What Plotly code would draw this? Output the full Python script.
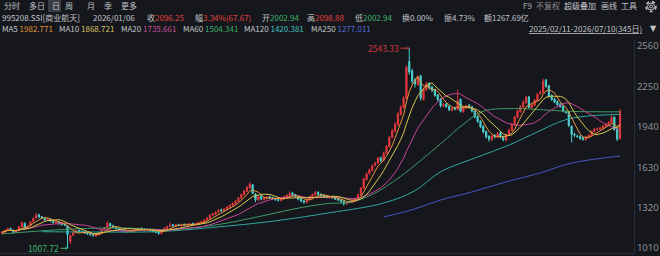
import plotly.graph_objects as go
import pandas as pd

# ---------------- data ----------------
opens = [1122,1130,1146,1160,1148,1130,1145,1172,1200,1162,
         1180,1212,1240,1265,1250,1238,1224,1230,1220,1202,
         1210,1198,1192,1180,1060,1108,1126,1145,1138,1132,
         1126,1120,1114,1102,1112,1124,1152,1166,1198,1182,
         1170,1158,1150,1144,1134,1142,1136,1148,1150,1162,
         1156,1146,1152,1146,1140,1132,1120,1142,1160,1176,
         1188,1178,1190,1182,1192,1185,1190,1198,1188,1196,
         1204,1210,1226,1238,1264,1268,1284,1304,1294,1308,
         1322,1336,1350,1368,1392,1418,1445,1470,1495,1425,
         1378,1410,1382,1390,1404,1398,1390,1382,1374,1388,
         1400,1412,1432,1420,1408,1390,1372,1360,1378,1402,
         1418,1438,1424,1414,1408,1394,1404,1398,1388,1380,
         1368,1348,1366,1360,1374,1388,1418,1468,1535,1582,
         1605,1645,1662,1702,1682,1738,1788,1858,1905,1955,
         2035,2088,2160,2440,2370,2300,2262,2330,2150,2225,
         2275,2245,2225,2185,2155,2098,2115,2098,2066,2085,
         2072,2150,2055,2082,2105,2094,2064,2020,1985,1945,
         1905,1868,1840,1875,1858,1895,1865,1836,1878,1912,
         1955,2012,2055,2092,2125,2170,2085,2105,2140,2195,
         2200,2300,2255,2180,2155,2135,2115,2100,2055,2055,
         1945,1885,1870,1868,1855,1840,1858,1872,1902,1918,
         1922,1928,1942,1958,1972,2015,1925,1850]
highs = [1138,1150,1166,1168,1152,1148,1180,1215,1206,1185,
         1216,1245,1280,1272,1256,1244,1240,1236,1225,1220,
         1215,1204,1198,1185,1112,1134,1150,1152,1144,1138,
         1130,1126,1118,1116,1130,1156,1172,1215,1204,1188,
         1176,1164,1156,1150,1146,1148,1152,1158,1166,1168,
         1160,1156,1158,1150,1144,1136,1146,1168,1182,1206,
         1194,1194,1196,1196,1198,1198,1202,1204,1204,1212,
         1218,1232,1246,1268,1278,1292,1308,1312,1318,1332,
         1346,1360,1378,1402,1428,1456,1484,1515,1502,1430,
         1412,1416,1400,1410,1412,1404,1396,1388,1396,1410,
         1422,1445,1440,1426,1412,1394,1378,1386,1412,1428,
         1450,1444,1430,1420,1414,1408,1410,1402,1394,1384,
         1372,1366,1372,1382,1398,1428,1478,1548,1590,1620,
         1650,1672,1710,1712,1750,1800,1870,1922,1975,2052,
         2105,2175,2410,2543.33,2385,2315,2335,2340,2242,2285,
         2280,2255,2232,2192,2160,2122,2125,2105,2090,2094,
         2225,2158,2095,2110,2115,2100,2070,2028,1990,1952,
         1910,1875,1880,1885,1900,1902,1870,1888,1925,1970,
         2025,2072,2105,2142,2180,2176,2120,2155,2200,2218,
         2310,2308,2262,2190,2162,2142,2124,2106,2066,2060,
         1950,1895,1880,1875,1862,1868,1882,1912,1930,1935,
         1940,1955,1968,1985,2030,2020,1930,2075]
lows = [1115,1126,1140,1144,1120,1124,1140,1168,1152,1155,
        1175,1206,1234,1240,1232,1220,1216,1210,1198,1196,
        1188,1182,1178,1007.72,1040,1100,1120,1130,1124,1118,
        1110,1104,1096,1096,1106,1120,1146,1160,1172,1160,
        1152,1144,1136,1128,1128,1132,1130,1142,1145,1148,
        1140,1140,1138,1130,1122,1112,1116,1138,1155,1170,
        1174,1172,1178,1176,1180,1180,1184,1184,1182,1190,
        1198,1204,1220,1232,1256,1262,1276,1288,1288,1302,
        1316,1330,1344,1362,1386,1410,1438,1462,1422,1362,
        1370,1376,1374,1384,1386,1380,1372,1366,1368,1382,
        1394,1406,1410,1396,1376,1360,1350,1354,1372,1396,
        1412,1412,1404,1398,1390,1388,1388,1378,1370,1356,
        1335,1342,1354,1355,1368,1384,1412,1462,1528,1572,
        1598,1635,1655,1668,1676,1730,1780,1850,1898,1948,
        2025,2080,2150,2340,2270,2240,2255,2140,2140,2215,
        2225,2205,2170,2135,2088,2090,2085,2060,2058,2066,
        2068,2050,2048,2076,2080,2050,2005,1970,1930,1888,
        1850,1825,1832,1850,1852,1850,1828,1830,1870,1905,
        1948,2005,2048,2085,2118,2080,2076,2098,2132,2185,
        2195,2240,2165,2140,2120,2100,2085,2050,2040,1940,
        1820,1862,1855,1840,1832,1835,1850,1866,1895,1910,
        1915,1920,1935,1950,1965,1910,1830,1840]
closes = [1130,1145,1158,1150,1128,1142,1175,1205,1160,1178,
          1210,1238,1262,1248,1240,1226,1232,1218,1205,1212,
          1196,1190,1185,1112,1105,1128,1142,1136,1130,1124,
          1118,1112,1105,1110,1125,1150,1165,1200,1180,1168,
          1160,1150,1142,1135,1140,1138,1146,1152,1160,1155,
          1148,1150,1145,1138,1130,1122,1140,1162,1175,1185,
          1180,1188,1184,1190,1186,1192,1195,1190,1198,1205,
          1212,1225,1240,1262,1270,1285,1300,1296,1310,1325,
          1338,1352,1370,1395,1420,1448,1475,1500,1430,1380,
          1405,1385,1392,1400,1395,1388,1380,1376,1390,1402,
          1415,1428,1418,1405,1385,1370,1362,1380,1405,1420,
          1435,1420,1412,1405,1398,1400,1395,1385,1378,1365,
          1350,1360,1362,1375,1390,1420,1470,1540,1580,1610,
          1640,1660,1700,1680,1740,1790,1860,1910,1960,2040,
          2090,2160,2400,2360,2290,2270,2320,2160,2230,2270,
          2240,2220,2180,2150,2100,2110,2095,2070,2080,2075,
          2140,2060,2085,2100,2090,2060,2015,1980,1940,1900,
          1862,1845,1870,1862,1890,1860,1840,1880,1915,1960,
          2015,2060,2095,2130,2165,2090,2110,2145,2190,2205,
          2290,2250,2175,2150,2130,2110,2095,2060,2050,1950,
          1880,1875,1865,1850,1845,1860,1875,1905,1920,1925,
          1930,1945,1960,1975,2010,1920,1845,2060]

# long moving averages at sample candles
ma60_i = [0, 20, 40, 60, 76, 90, 105, 115, 122, 130, 140, 154, 162, 169, 180, 190, 200, 217]
ma60_v = [1118, 1150, 1165, 1152, 1190, 1250, 1320, 1352, 1360, 1420, 1560, 1810, 1960, 2060, 2080, 2070, 2058, 2055]
ma120_i = [14, 30, 55, 76, 95, 115, 134, 145, 154, 166, 178, 186, 198, 207, 217]
ma120_v = [1135, 1133, 1136, 1172, 1215, 1280, 1355, 1450, 1595, 1700, 1800, 1880, 1995, 2025, 2035]
ma250_i = [134, 145, 154, 165, 177, 189, 200, 217]
ma250_v = [1248, 1310, 1378, 1440, 1517, 1586, 1662, 1716]

price_ticks = [1010, 1320, 1630, 1940, 2250, 2560]
high_label = 2543.33
low_label = 1007.72

# ---------------- figure ----------------
BG = '#15171c'
UP = '#e2393c'
DOWN = '#4ccfd0'
LIGHT = '#c4c6cb'
RED = '#e0403f'
GREEN = '#3cb56a'

idx = list(range(len(closes)))
s = pd.Series(closes)
ma5 = s.rolling(5, min_periods=1).mean()
ma10 = s.rolling(10, min_periods=1).mean()
ma20 = s.rolling(20, min_periods=1).mean()

fig = go.Figure()
fig.add_trace(go.Candlestick(
    x=idx, open=opens, high=highs, low=lows, close=closes,
    increasing=dict(line=dict(color=UP, width=1), fillcolor=UP),
    decreasing=dict(line=dict(color=DOWN, width=1), fillcolor=DOWN),
    whiskerwidth=0, showlegend=False, hoverinfo='skip'))

line_specs = [
    (ma250_i, ma250_v, '#4656c4'),
    (ma120_i, ma120_v, '#2fa8a0'),
    (ma60_i, ma60_v, '#3f9a66'),
]
for xi, yv, col in line_specs:
    fig.add_trace(go.Scatter(x=xi, y=yv, mode='lines',
                             line=dict(color=col, width=1, shape='spline', smoothing=1.0),
                             showlegend=False, hoverinfo='skip'))
for ser, col in [(ma20, '#c8449a'), (ma10, '#d9c850'), (ma5, '#e8963c')]:
    fig.add_trace(go.Scatter(x=idx, y=ser, mode='lines',
                             line=dict(color=col, width=1),
                             showlegend=False, hoverinfo='skip'))

# plot area geometry in pixels
L, R, T, B = 0, 26, 40, 3
W, H = 660, 256
PW, PH = W - L - R, H - T - B


def px(x):
    return (x - L) / PW


def py(y):
    return (H - B - y) / PH


FONT = "Noto Sans CJK SC, Noto Sans, sans-serif"
ann = []


def txt(x, y, text, color=LIGHT, size=8, anchor='left', family=FONT):
    ann.append(dict(x=px(x), y=py(y), xref='paper', yref='paper', text=text,
                    showarrow=False, xanchor=anchor, yanchor='middle',
                    borderpad=0, font=dict(family=family, size=size, color=color)))


def sp(t, c):
    return f"<span style='color:{c}'>{t}</span>"


# row 1 tabs
for x, t in [(3, '分时'), (28, '多日'), (51, '日'), (64, '周'), (86, '月'), (103, '季'), (120, '更多')]:
    txt(x, 6, t, '#bfc1c6', 8)
txt(522, 6, 'F9', '#a8aab0', 8)
txt(535, 6, '不复权', '#8c8e94', 8)
txt(563, 6, '超级叠加', '#c4c6cb', 8)
txt(600, 6, '画线', '#c4c6cb', 8)
txt(620, 6, '工具', '#c4c6cb', 8)

# row 2 quote line
RY = 17
txt(1, RY, '995208.SSI[商业航天]')
txt(92, RY, '2026/01/06')
txt(146, RY, '收' + sp('2096.25', RED))
txt(194, RY, '幅' + sp('3.34%(67.67)', RED))
txt(261, RY, '开' + sp('2002.94', GREEN))
txt(306, RY, '高' + sp('2098.88', RED))
txt(354, RY, '低' + sp('2002.94', GREEN))
txt(401, RY, '换0.00%')
txt(443, RY, '振4.73%')
txt(483, RY, '额1267.69亿')

# row 3 MA legend
MY = 29
txt(1, MY, 'MA5 ' + sp('1982.771', '#e0923a'))
txt(58, MY, 'MA10 ' + sp('1868.721', '#d8c060'))
txt(120, MY, 'MA20 ' + sp('1735.661', '#c8509c'))
txt(182, MY, 'MA60 ' + sp('1504.341', '#3cae6a'))
txt(243, MY, 'MA120 ' + sp('1420.381', '#40c0c0'))
txt(310, MY, 'MA250 ' + sp('1277.011', '#5a6cd8'))
txt(643, MY, '<u>2025/02/11-2026/07/10(345日)</u>', LIGHT, 8, 'right')
txt(649, MY, '▼', LIGHT, 8, family='DejaVu Sans')

# extreme price labels
ann.append(dict(x=143, y=high_label, xref='x', yref='y', text=f'{high_label:.2f}',
                showarrow=True, arrowhead=1, arrowsize=0.6, arrowwidth=1,
                arrowcolor='#d03a3a', ax=-26, ay=0,
                font=dict(family=FONT, size=8.5, color='#d03a3a')))
ann.append(dict(x=23, y=low_label, xref='x', yref='y', text=f'{low_label:.2f}',
                showarrow=True, arrowhead=1, arrowsize=0.6, arrowwidth=1,
                arrowcolor='#3cb56a', ax=-24, ay=0,
                font=dict(family=FONT, size=8.5, color='#3cb56a')))

shapes = [
    dict(type='rect', xref='paper', yref='paper',
         x0=px(48), x1=px(61), y0=py(12), y1=py(0),
         fillcolor='#3b3e45', line=dict(width=0), layer='below'),
    # settings gear icon (ring + hub)
    dict(type='circle', xref='paper', yref='paper',
         x0=px(646), x1=px(656), y0=py(11.5), y1=py(1.5),
         line=dict(color='#c4c6cb', width=1.6, dash='dot'), fillcolor='rgba(0,0,0,0)'),
    dict(type='circle', xref='paper', yref='paper',
         x0=px(647.5), x1=px(654.5), y0=py(10), y1=py(3),
         line=dict(color='#c4c6cb', width=1), fillcolor='rgba(0,0,0,0)'),
    dict(type='circle', xref='paper', yref='paper',
         x0=px(649.5), x1=px(652.5), y0=py(8), y1=py(5),
         line=dict(color='#c4c6cb', width=1), fillcolor='rgba(0,0,0,0)'),
]

ypad_top = (2560 - 1010) / 202 * 6
ypad_bot = (2560 - 1010) / 202 * 5
fig.update_layout(
    width=W, height=H, margin=dict(l=L, r=R, t=T, b=B),
    paper_bgcolor=BG, plot_bgcolor=BG,
    annotations=ann, shapes=shapes,
    xaxis=dict(range=[-0.7, 221.9], showgrid=False, zeroline=False,
               showticklabels=False, ticks='', rangeslider=dict(visible=False),
               showline=True, linecolor='#2a2d34', linewidth=1),
    yaxis=dict(range=[1010 - ypad_bot, 2560 + ypad_top], side='right',
               tickvals=price_ticks, ticktext=[str(v) for v in price_ticks],
               showgrid=False, zeroline=False, ticks='',
               tickfont=dict(family='Noto Sans, sans-serif', size=9.5, color='#8e9096'),
               showline=True, linecolor='#2a2d34', linewidth=1),
    boxgap=0.4,
)

fig.write_html("out.html")
